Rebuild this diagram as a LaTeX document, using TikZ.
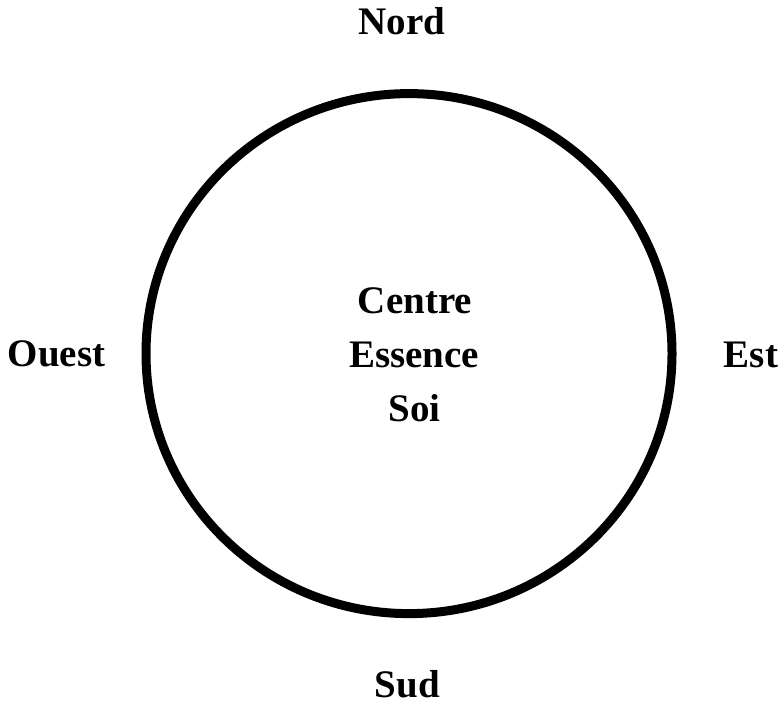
\documentclass[tikz,border=0pt]{standalone}
\usepackage{fontspec}
\setmainfont{Liberation Serif}
\usetikzlibrary{shapes.geometric}
\tikzset{
  lbl/.style={anchor=base, inner sep=0pt, font=\fontsize{39}{47}\selectfont\bfseries},
  ring/.style={draw=black, ellipse, line width=9pt, inner sep=0pt,
    minimum width=526pt, minimum height=520pt}
}
\begin{document}
\begin{tikzpicture}[x=1pt,y=-1pt]
\useasboundingbox (0,0) rectangle (783,704);
\node[ring] (circ) at (409,353.6) {};
\node[lbl] (nord) at (402,34) {Nord};
\node[lbl] (sud) at (407.5,697) {Sud};
\node[lbl] (ouest) at (56.5,366) {Ouest};
\node[lbl] (est) at (751,367) {Est};
\node[lbl] (c1) at (415,313) {Centre};
\node[lbl] (c2) at (414,367) {Essence};
\node[lbl] (c3) at (414.5,421) {Soi};
\end{tikzpicture}
\end{document}
